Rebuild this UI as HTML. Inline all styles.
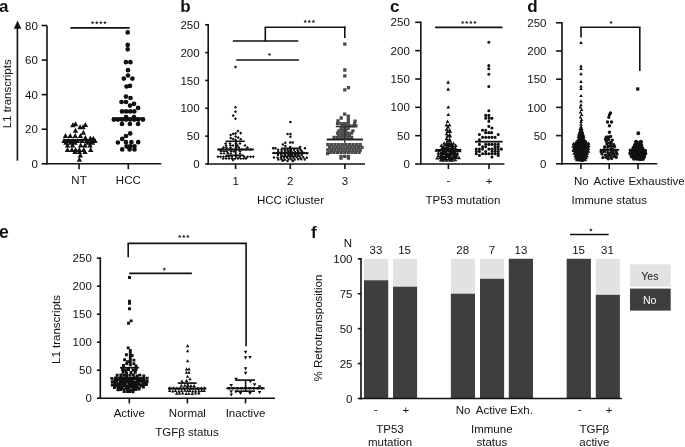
<!DOCTYPE html><html><head><meta charset="utf-8"><style>html,body{margin:0;padding:0;background:#fff;}svg{display:block;filter:grayscale(100%);}text{font-family:"Liberation Sans",sans-serif;}</style></head><body>
<svg width="685" height="447" viewBox="0 0 685 447">
<rect width="685" height="447" fill="#fff"/>
<text x="-1.00" y="12.20" text-anchor="start" font-size="17" font-weight="bold" fill="#111" >a</text>
<text x="180.20" y="12.20" text-anchor="start" font-size="17" font-weight="bold" fill="#111" >b</text>
<text x="389.90" y="12.30" text-anchor="start" font-size="17" font-weight="bold" fill="#111" >c</text>
<text x="527.30" y="12.20" text-anchor="start" font-size="17" font-weight="bold" fill="#111" >d</text>
<text x="-0.90" y="237.80" text-anchor="start" font-size="17.6" font-weight="bold" fill="#111" >e</text>
<text x="311.00" y="237.60" text-anchor="start" font-size="17" font-weight="bold" fill="#111" >f</text>
<line x1="47.00" y1="25.50" x2="47.00" y2="164.60" stroke="#111" stroke-width="1.6"/>
<line x1="46.20" y1="163.80" x2="161.20" y2="163.80" stroke="#111" stroke-width="1.6"/>
<line x1="41.60" y1="163.80" x2="47.00" y2="163.80" stroke="#111" stroke-width="1.6"/>
<text x="37.80" y="167.90" text-anchor="end" font-size="11.5" font-weight="normal" fill="#111" >0</text>
<line x1="41.60" y1="129.23" x2="47.00" y2="129.23" stroke="#111" stroke-width="1.6"/>
<text x="37.80" y="133.33" text-anchor="end" font-size="11.5" font-weight="normal" fill="#111" >20</text>
<line x1="41.60" y1="94.65" x2="47.00" y2="94.65" stroke="#111" stroke-width="1.6"/>
<text x="37.80" y="98.75" text-anchor="end" font-size="11.5" font-weight="normal" fill="#111" >40</text>
<line x1="41.60" y1="60.08" x2="47.00" y2="60.08" stroke="#111" stroke-width="1.6"/>
<text x="37.80" y="64.18" text-anchor="end" font-size="11.5" font-weight="normal" fill="#111" >60</text>
<line x1="41.60" y1="25.50" x2="47.00" y2="25.50" stroke="#111" stroke-width="1.6"/>
<text x="37.80" y="29.60" text-anchor="end" font-size="11.5" font-weight="normal" fill="#111" >80</text>
<line x1="79.00" y1="163.80" x2="79.00" y2="169.20" stroke="#111" stroke-width="1.6"/>
<text x="79.00" y="184.10" text-anchor="middle" font-size="11.5" font-weight="normal" fill="#111" >NT</text>
<line x1="128.30" y1="163.80" x2="128.30" y2="169.20" stroke="#111" stroke-width="1.6"/>
<text x="128.30" y="184.10" text-anchor="middle" font-size="11.5" font-weight="normal" fill="#111" >HCC</text>
<text transform="translate(11.10,93.80) rotate(-90)" text-anchor="middle" font-size="11.5" fill="#111">L1 transcripts</text>
<line x1="17.40" y1="27.00" x2="17.40" y2="160.70" stroke="#111" stroke-width="1.6"/>
<path d="M13.8,28.8L21.3,28.8L17.55,20.6Z" fill="#111"/>
<line x1="70.40" y1="27.90" x2="129.70" y2="27.90" stroke="#111" stroke-width="1.6"/>
<path d="M70.10,127.13L75.50,127.13L72.80,122.27ZM72.80,126.23L78.20,126.23L75.50,121.37ZM82.70,126.93L88.10,126.93L85.40,122.07ZM77.40,129.23L82.80,129.23L80.10,124.37ZM80.40,129.23L85.80,129.23L83.10,124.37ZM72.80,132.73L78.20,132.73L75.50,127.87ZM80.70,134.73L86.10,134.73L83.40,129.87ZM62.80,137.93L68.20,137.93L65.50,133.07ZM67.50,137.93L72.90,137.93L70.20,133.07ZM72.50,137.93L77.90,137.93L75.20,133.07ZM77.70,137.93L83.10,137.93L80.40,133.07ZM82.70,139.93L88.10,139.93L85.40,135.07ZM87.70,140.43L93.10,140.43L90.40,135.57ZM90.60,140.73L96.00,140.73L93.30,135.87ZM61.30,142.93L66.70,142.93L64.00,138.07ZM65.80,142.93L71.20,142.93L68.50,138.07ZM70.30,142.93L75.70,142.93L73.00,138.07ZM74.80,142.93L80.20,142.93L77.50,138.07ZM79.30,142.93L84.70,142.93L82.00,138.07ZM83.80,142.93L89.20,142.93L86.50,138.07ZM88.30,142.93L93.70,142.93L91.00,138.07ZM92.30,142.93L97.70,142.93L95.00,138.07ZM63.30,144.63L68.70,144.63L66.00,139.77ZM67.80,144.63L73.20,144.63L70.50,139.77ZM72.30,144.63L77.70,144.63L75.00,139.77ZM85.30,144.63L90.70,144.63L88.00,139.77ZM89.80,144.63L95.20,144.63L92.50,139.77ZM64.80,147.43L70.20,147.43L67.50,142.57ZM69.80,147.43L75.20,147.43L72.50,142.57ZM78.00,147.43L83.40,147.43L80.70,142.57ZM82.30,147.43L87.70,147.43L85.00,142.57ZM87.30,147.43L92.70,147.43L90.00,142.57ZM64.80,151.93L70.20,151.93L67.50,147.07ZM69.20,151.93L74.60,151.93L71.90,147.07ZM72.90,151.93L78.30,151.93L75.60,147.07ZM76.70,151.93L82.10,151.93L79.40,147.07ZM81.10,151.93L86.50,151.93L83.80,147.07ZM88.00,151.93L93.40,151.93L90.70,147.07ZM72.30,154.03L77.70,154.03L75.00,149.17ZM76.70,154.03L82.10,154.03L79.40,149.17ZM82.30,154.03L87.70,154.03L85.00,149.17ZM77.60,157.53L83.00,157.53L80.30,152.67ZM76.70,161.63L82.10,161.63L79.40,156.77Z" fill="#111"/>
<line x1="63.20" y1="140.00" x2="95.80" y2="140.00" stroke="#111" stroke-width="1.8"/>
<path d="M125.35,32.40a2.35,2.35 0 1,0 4.70,0a2.35,2.35 0 1,0 -4.70,0ZM125.35,44.90a2.35,2.35 0 1,0 4.70,0a2.35,2.35 0 1,0 -4.70,0ZM125.35,49.30a2.35,2.35 0 1,0 4.70,0a2.35,2.35 0 1,0 -4.70,0ZM123.55,62.20a2.35,2.35 0 1,0 4.70,0a2.35,2.35 0 1,0 -4.70,0ZM128.05,62.20a2.35,2.35 0 1,0 4.70,0a2.35,2.35 0 1,0 -4.70,0ZM125.65,70.20a2.35,2.35 0 1,0 4.70,0a2.35,2.35 0 1,0 -4.70,0ZM125.65,75.50a2.35,2.35 0 1,0 4.70,0a2.35,2.35 0 1,0 -4.70,0ZM121.45,78.60a2.35,2.35 0 1,0 4.70,0a2.35,2.35 0 1,0 -4.70,0ZM130.05,78.60a2.35,2.35 0 1,0 4.70,0a2.35,2.35 0 1,0 -4.70,0ZM124.15,86.50a2.35,2.35 0 1,0 4.70,0a2.35,2.35 0 1,0 -4.70,0ZM127.65,85.80a2.35,2.35 0 1,0 4.70,0a2.35,2.35 0 1,0 -4.70,0ZM123.65,96.60a2.35,2.35 0 1,0 4.70,0a2.35,2.35 0 1,0 -4.70,0ZM128.15,98.00a2.35,2.35 0 1,0 4.70,0a2.35,2.35 0 1,0 -4.70,0ZM119.15,102.00a2.35,2.35 0 1,0 4.70,0a2.35,2.35 0 1,0 -4.70,0ZM123.65,102.00a2.35,2.35 0 1,0 4.70,0a2.35,2.35 0 1,0 -4.70,0ZM131.65,103.80a2.35,2.35 0 1,0 4.70,0a2.35,2.35 0 1,0 -4.70,0ZM127.65,105.60a2.35,2.35 0 1,0 4.70,0a2.35,2.35 0 1,0 -4.70,0ZM135.75,107.90a2.35,2.35 0 1,0 4.70,0a2.35,2.35 0 1,0 -4.70,0ZM119.65,111.40a2.35,2.35 0 1,0 4.70,0a2.35,2.35 0 1,0 -4.70,0ZM123.75,111.40a2.35,2.35 0 1,0 4.70,0a2.35,2.35 0 1,0 -4.70,0ZM127.85,111.40a2.35,2.35 0 1,0 4.70,0a2.35,2.35 0 1,0 -4.70,0ZM131.95,111.40a2.35,2.35 0 1,0 4.70,0a2.35,2.35 0 1,0 -4.70,0ZM123.75,117.00a2.35,2.35 0 1,0 4.70,0a2.35,2.35 0 1,0 -4.70,0ZM131.65,117.00a2.35,2.35 0 1,0 4.70,0a2.35,2.35 0 1,0 -4.70,0ZM111.45,119.60a2.35,2.35 0 1,0 4.70,0a2.35,2.35 0 1,0 -4.70,0ZM115.55,119.60a2.35,2.35 0 1,0 4.70,0a2.35,2.35 0 1,0 -4.70,0ZM119.65,119.60a2.35,2.35 0 1,0 4.70,0a2.35,2.35 0 1,0 -4.70,0ZM123.75,119.60a2.35,2.35 0 1,0 4.70,0a2.35,2.35 0 1,0 -4.70,0ZM127.85,119.60a2.35,2.35 0 1,0 4.70,0a2.35,2.35 0 1,0 -4.70,0ZM131.95,119.60a2.35,2.35 0 1,0 4.70,0a2.35,2.35 0 1,0 -4.70,0ZM136.05,119.60a2.35,2.35 0 1,0 4.70,0a2.35,2.35 0 1,0 -4.70,0ZM140.65,119.60a2.35,2.35 0 1,0 4.70,0a2.35,2.35 0 1,0 -4.70,0ZM119.65,124.00a2.35,2.35 0 1,0 4.70,0a2.35,2.35 0 1,0 -4.70,0ZM127.55,124.00a2.35,2.35 0 1,0 4.70,0a2.35,2.35 0 1,0 -4.70,0ZM135.75,124.00a2.35,2.35 0 1,0 4.70,0a2.35,2.35 0 1,0 -4.70,0ZM127.85,133.40a2.35,2.35 0 1,0 4.70,0a2.35,2.35 0 1,0 -4.70,0ZM123.65,136.00a2.35,2.35 0 1,0 4.70,0a2.35,2.35 0 1,0 -4.70,0ZM119.85,138.90a2.35,2.35 0 1,0 4.70,0a2.35,2.35 0 1,0 -4.70,0ZM115.55,142.50a2.35,2.35 0 1,0 4.70,0a2.35,2.35 0 1,0 -4.70,0ZM123.55,142.20a2.35,2.35 0 1,0 4.70,0a2.35,2.35 0 1,0 -4.70,0ZM129.05,142.20a2.35,2.35 0 1,0 4.70,0a2.35,2.35 0 1,0 -4.70,0ZM135.85,142.20a2.35,2.35 0 1,0 4.70,0a2.35,2.35 0 1,0 -4.70,0ZM124.15,146.30a2.35,2.35 0 1,0 4.70,0a2.35,2.35 0 1,0 -4.70,0ZM127.85,146.30a2.35,2.35 0 1,0 4.70,0a2.35,2.35 0 1,0 -4.70,0ZM132.15,146.30a2.35,2.35 0 1,0 4.70,0a2.35,2.35 0 1,0 -4.70,0ZM119.85,149.40a2.35,2.35 0 1,0 4.70,0a2.35,2.35 0 1,0 -4.70,0ZM127.25,149.40a2.35,2.35 0 1,0 4.70,0a2.35,2.35 0 1,0 -4.70,0ZM132.15,149.40a2.35,2.35 0 1,0 4.70,0a2.35,2.35 0 1,0 -4.70,0Z" fill="#111"/>
<line x1="112.10" y1="118.10" x2="144.50" y2="118.10" stroke="#111" stroke-width="1.8"/>
<path d="M92.65,20.80L93.15,22.01L94.46,22.11L93.46,22.96L93.77,24.24L92.65,23.55L91.53,24.24L91.84,22.96L90.84,22.11L92.15,22.01ZM96.75,20.80L97.25,22.01L98.56,22.11L97.56,22.96L97.87,24.24L96.75,23.55L95.63,24.24L95.94,22.96L94.94,22.11L96.25,22.01ZM100.85,20.80L101.35,22.01L102.66,22.11L101.66,22.96L101.97,24.24L100.85,23.55L99.73,24.24L100.04,22.96L99.04,22.11L100.35,22.01ZM104.95,20.80L105.45,22.01L106.76,22.11L105.76,22.96L106.07,24.24L104.95,23.55L103.83,24.24L104.14,22.96L103.14,22.11L104.45,22.01Z" fill="#222"/>
<line x1="208.20" y1="23.95" x2="208.20" y2="164.80" stroke="#111" stroke-width="1.6"/>
<line x1="207.40" y1="164.00" x2="365.00" y2="164.00" stroke="#111" stroke-width="1.6"/>
<line x1="205.20" y1="164.00" x2="208.20" y2="164.00" stroke="#111" stroke-width="1.6"/>
<text x="199.60" y="168.10" text-anchor="end" font-size="11.5" font-weight="normal" fill="#111" >0</text>
<line x1="205.20" y1="136.15" x2="208.20" y2="136.15" stroke="#111" stroke-width="1.6"/>
<text x="199.60" y="140.25" text-anchor="end" font-size="11.5" font-weight="normal" fill="#111" >50</text>
<line x1="205.20" y1="108.30" x2="208.20" y2="108.30" stroke="#111" stroke-width="1.6"/>
<text x="199.60" y="112.40" text-anchor="end" font-size="11.5" font-weight="normal" fill="#111" >100</text>
<line x1="205.20" y1="80.45" x2="208.20" y2="80.45" stroke="#111" stroke-width="1.6"/>
<text x="199.60" y="84.55" text-anchor="end" font-size="11.5" font-weight="normal" fill="#111" >150</text>
<line x1="205.20" y1="52.60" x2="208.20" y2="52.60" stroke="#111" stroke-width="1.6"/>
<text x="199.60" y="56.70" text-anchor="end" font-size="11.5" font-weight="normal" fill="#111" >200</text>
<line x1="205.20" y1="24.75" x2="208.20" y2="24.75" stroke="#111" stroke-width="1.6"/>
<text x="199.60" y="28.85" text-anchor="end" font-size="11.5" font-weight="normal" fill="#111" >250</text>
<line x1="235.60" y1="164.00" x2="235.60" y2="169.00" stroke="#111" stroke-width="1.6"/>
<text x="235.60" y="185.10" text-anchor="middle" font-size="11.5" font-weight="normal" fill="#111" >1</text>
<line x1="290.30" y1="164.00" x2="290.30" y2="169.00" stroke="#111" stroke-width="1.6"/>
<text x="290.30" y="185.10" text-anchor="middle" font-size="11.5" font-weight="normal" fill="#111" >2</text>
<line x1="344.90" y1="164.00" x2="344.90" y2="169.00" stroke="#111" stroke-width="1.6"/>
<text x="344.90" y="185.10" text-anchor="middle" font-size="11.5" font-weight="normal" fill="#111" >3</text>
<text x="290.50" y="204.00" text-anchor="middle" font-size="11.5" font-weight="normal" fill="#111" >HCC iCluster</text>
<line x1="232.80" y1="41.00" x2="298.30" y2="41.00" stroke="#111" stroke-width="1.6"/>
<line x1="265.30" y1="41.80" x2="265.30" y2="27.30" stroke="#111" stroke-width="1.6"/>
<line x1="264.50" y1="27.30" x2="345.60" y2="27.30" stroke="#111" stroke-width="1.6"/>
<line x1="344.80" y1="26.50" x2="344.80" y2="38.10" stroke="#111" stroke-width="1.6"/>
<line x1="236.30" y1="60.00" x2="298.90" y2="60.00" stroke="#111" stroke-width="1.6"/>
<path d="M305.20,19.60L305.70,20.81L307.01,20.91L306.01,21.76L306.32,23.04L305.20,22.36L304.08,23.04L304.39,21.76L303.39,20.91L304.70,20.81ZM309.30,19.60L309.80,20.81L311.11,20.91L310.11,21.76L310.42,23.04L309.30,22.36L308.18,23.04L308.49,21.76L307.49,20.91L308.80,20.81ZM313.40,19.60L313.90,20.81L315.21,20.91L314.21,21.76L314.52,23.04L313.40,22.36L312.28,23.04L312.59,21.76L311.59,20.91L312.90,20.81Z" fill="#222"/>
<path d="M269.50,52.60L270.00,53.81L271.31,53.91L270.31,54.76L270.62,56.04L269.50,55.35L268.38,56.04L268.69,54.76L267.69,53.91L269.00,53.81Z" fill="#222"/>
<path d="M235.50,65.45L237.05,67.00L235.50,68.55L233.95,67.00ZM235.50,105.75L237.05,107.30L235.50,108.85L233.95,107.30ZM235.50,110.15L237.05,111.70L235.50,113.25L233.95,111.70ZM233.20,114.05L234.75,115.60L233.20,117.15L231.65,115.60ZM235.50,117.15L237.05,118.70L235.50,120.25L233.95,118.70ZM237.90,129.55L239.45,131.10L237.90,132.65L236.35,131.10ZM240.70,131.55L242.25,133.10L240.70,134.65L239.15,133.10ZM235.70,131.85L237.25,133.40L235.70,134.95L234.15,133.40ZM233.20,132.35L234.75,133.90L233.20,135.45L231.65,133.90ZM230.70,133.45L232.25,135.00L230.70,136.55L229.15,135.00ZM235.70,134.95L237.25,136.50L235.70,138.05L234.15,136.50ZM238.20,136.05L239.75,137.60L238.20,139.15L236.65,137.60ZM230.70,136.55L232.25,138.10L230.70,139.65L229.15,138.10ZM233.20,137.45L234.75,139.00L233.20,140.55L231.65,139.00ZM240.70,137.65L242.25,139.20L240.70,140.75L239.15,139.20ZM235.70,138.45L237.25,140.00L235.70,141.55L234.15,140.00ZM225.60,141.95L227.15,143.50L225.60,145.05L224.05,143.50ZM230.00,141.95L231.55,143.50L230.00,145.05L228.45,143.50ZM236.00,141.95L237.55,143.50L236.00,145.05L234.45,143.50ZM240.00,141.95L241.55,143.50L240.00,145.05L238.45,143.50ZM226.00,143.95L227.55,145.50L226.00,147.05L224.45,145.50ZM230.50,143.95L232.05,145.50L230.50,147.05L228.95,145.50ZM233.00,143.95L234.55,145.50L233.00,147.05L231.45,145.50ZM237.50,143.95L239.05,145.50L237.50,147.05L235.95,145.50ZM245.00,143.95L246.55,145.50L245.00,147.05L243.45,145.50ZM223.50,145.95L225.05,147.50L223.50,149.05L221.95,147.50ZM226.50,145.95L228.05,147.50L226.50,149.05L224.95,147.50ZM230.50,145.95L232.05,147.50L230.50,149.05L228.95,147.50ZM236.00,145.95L237.55,147.50L236.00,149.05L234.45,147.50ZM238.80,145.95L240.35,147.50L238.80,149.05L237.25,147.50ZM247.50,145.95L249.05,147.50L247.50,149.05L245.95,147.50ZM219.00,147.95L220.55,149.50L219.00,151.05L217.45,149.50ZM222.00,147.95L223.55,149.50L222.00,151.05L220.45,149.50ZM226.00,147.95L227.55,149.50L226.00,151.05L224.45,149.50ZM229.00,147.95L230.55,149.50L229.00,151.05L227.45,149.50ZM232.00,147.95L233.55,149.50L232.00,151.05L230.45,149.50ZM239.00,147.95L240.55,149.50L239.00,151.05L237.45,149.50ZM242.00,147.95L243.55,149.50L242.00,151.05L240.45,149.50ZM246.00,147.95L247.55,149.50L246.00,151.05L244.45,149.50ZM250.50,147.95L252.05,149.50L250.50,151.05L248.95,149.50ZM221.00,149.95L222.55,151.50L221.00,153.05L219.45,151.50ZM224.00,149.95L225.55,151.50L224.00,153.05L222.45,151.50ZM226.80,149.95L228.35,151.50L226.80,153.05L225.25,151.50ZM231.00,149.95L232.55,151.50L231.00,153.05L229.45,151.50ZM234.00,149.95L235.55,151.50L234.00,153.05L232.45,151.50ZM240.00,149.95L241.55,151.50L240.00,153.05L238.45,151.50ZM221.00,151.75L222.55,153.30L221.00,154.85L219.45,153.30ZM224.00,151.75L225.55,153.30L224.00,154.85L222.45,153.30ZM228.00,151.75L229.55,153.30L228.00,154.85L226.45,153.30ZM231.00,151.75L232.55,153.30L231.00,154.85L229.45,153.30ZM240.00,151.75L241.55,153.30L240.00,154.85L238.45,153.30ZM218.00,155.15L219.55,156.70L218.00,158.25L216.45,156.70ZM220.60,155.15L222.15,156.70L220.60,158.25L219.05,156.70ZM223.40,155.15L224.95,156.70L223.40,158.25L221.85,156.70ZM226.20,155.15L227.75,156.70L226.20,158.25L224.65,156.70ZM229.00,155.15L230.55,156.70L229.00,158.25L227.45,156.70ZM232.00,155.15L233.55,156.70L232.00,158.25L230.45,156.70ZM236.00,155.15L237.55,156.70L236.00,158.25L234.45,156.70ZM240.00,155.15L241.55,156.70L240.00,158.25L238.45,156.70ZM244.00,155.15L245.55,156.70L244.00,158.25L242.45,156.70ZM247.60,155.15L249.15,156.70L247.60,158.25L246.05,156.70ZM250.50,155.15L252.05,156.70L250.50,158.25L248.95,156.70ZM253.20,155.15L254.75,156.70L253.20,158.25L251.65,156.70ZM223.00,156.85L224.55,158.40L223.00,159.95L221.45,158.40ZM226.00,156.85L227.55,158.40L226.00,159.95L224.45,158.40ZM229.00,156.85L230.55,158.40L229.00,159.95L227.45,158.40ZM232.00,156.85L233.55,158.40L232.00,159.95L230.45,158.40ZM235.00,156.85L236.55,158.40L235.00,159.95L233.45,158.40ZM238.00,156.85L239.55,158.40L238.00,159.95L236.45,158.40ZM240.80,156.85L242.35,158.40L240.80,159.95L239.25,158.40ZM243.50,156.85L245.05,158.40L243.50,159.95L241.95,158.40ZM246.00,156.85L247.55,158.40L246.00,159.95L244.45,158.40ZM233.00,158.45L234.55,160.00L233.00,161.55L231.45,160.00Z" fill="#111"/>
<line x1="217.50" y1="149.50" x2="253.80" y2="149.50" stroke="#111" stroke-width="1.8"/>
<line x1="225.60" y1="141.30" x2="244.80" y2="141.30" stroke="#111" stroke-width="1.6"/>
<line x1="225.60" y1="155.30" x2="244.20" y2="155.30" stroke="#111" stroke-width="1.6"/>
<line x1="235.80" y1="141.30" x2="235.80" y2="155.30" stroke="#111" stroke-width="1.8"/>
<path d="M289.15,122.00a1.25,1.25 0 1,0 2.50,0a1.25,1.25 0 1,0 -2.50,0ZM286.35,134.00a1.25,1.25 0 1,0 2.50,0a1.25,1.25 0 1,0 -2.50,0ZM289.25,134.00a1.25,1.25 0 1,0 2.50,0a1.25,1.25 0 1,0 -2.50,0ZM289.15,136.80a1.25,1.25 0 1,0 2.50,0a1.25,1.25 0 1,0 -2.50,0ZM284.05,142.80a1.25,1.25 0 1,0 2.50,0a1.25,1.25 0 1,0 -2.50,0ZM288.95,142.50a1.25,1.25 0 1,0 2.50,0a1.25,1.25 0 1,0 -2.50,0ZM291.45,142.50a1.25,1.25 0 1,0 2.50,0a1.25,1.25 0 1,0 -2.50,0ZM281.55,144.40a1.25,1.25 0 1,0 2.50,0a1.25,1.25 0 1,0 -2.50,0ZM284.05,146.00a1.25,1.25 0 1,0 2.50,0a1.25,1.25 0 1,0 -2.50,0ZM271.85,148.30a1.25,1.25 0 1,0 2.50,0a1.25,1.25 0 1,0 -2.50,0ZM274.15,148.30a1.25,1.25 0 1,0 2.50,0a1.25,1.25 0 1,0 -2.50,0ZM288.95,147.00a1.25,1.25 0 1,0 2.50,0a1.25,1.25 0 1,0 -2.50,0ZM298.85,147.00a1.25,1.25 0 1,0 2.50,0a1.25,1.25 0 1,0 -2.50,0ZM303.65,148.30a1.25,1.25 0 1,0 2.50,0a1.25,1.25 0 1,0 -2.50,0ZM276.84,149.79a1.25,1.25 0 1,0 2.50,0a1.25,1.25 0 1,0 -2.50,0ZM280.27,149.74a1.25,1.25 0 1,0 2.50,0a1.25,1.25 0 1,0 -2.50,0ZM283.43,149.92a1.25,1.25 0 1,0 2.50,0a1.25,1.25 0 1,0 -2.50,0ZM286.37,150.00a1.25,1.25 0 1,0 2.50,0a1.25,1.25 0 1,0 -2.50,0ZM289.59,149.96a1.25,1.25 0 1,0 2.50,0a1.25,1.25 0 1,0 -2.50,0ZM292.83,149.75a1.25,1.25 0 1,0 2.50,0a1.25,1.25 0 1,0 -2.50,0ZM296.28,150.20a1.25,1.25 0 1,0 2.50,0a1.25,1.25 0 1,0 -2.50,0ZM299.32,149.83a1.25,1.25 0 1,0 2.50,0a1.25,1.25 0 1,0 -2.50,0ZM277.03,151.97a1.25,1.25 0 1,0 2.50,0a1.25,1.25 0 1,0 -2.50,0ZM280.37,151.64a1.25,1.25 0 1,0 2.50,0a1.25,1.25 0 1,0 -2.50,0ZM283.98,151.43a1.25,1.25 0 1,0 2.50,0a1.25,1.25 0 1,0 -2.50,0ZM287.28,151.57a1.25,1.25 0 1,0 2.50,0a1.25,1.25 0 1,0 -2.50,0ZM290.22,151.47a1.25,1.25 0 1,0 2.50,0a1.25,1.25 0 1,0 -2.50,0ZM293.69,151.89a1.25,1.25 0 1,0 2.50,0a1.25,1.25 0 1,0 -2.50,0ZM296.99,151.75a1.25,1.25 0 1,0 2.50,0a1.25,1.25 0 1,0 -2.50,0ZM300.63,151.62a1.25,1.25 0 1,0 2.50,0a1.25,1.25 0 1,0 -2.50,0ZM272.98,152.94a1.25,1.25 0 1,0 2.50,0a1.25,1.25 0 1,0 -2.50,0ZM275.95,153.02a1.25,1.25 0 1,0 2.50,0a1.25,1.25 0 1,0 -2.50,0ZM279.58,153.16a1.25,1.25 0 1,0 2.50,0a1.25,1.25 0 1,0 -2.50,0ZM282.62,153.25a1.25,1.25 0 1,0 2.50,0a1.25,1.25 0 1,0 -2.50,0ZM285.96,153.08a1.25,1.25 0 1,0 2.50,0a1.25,1.25 0 1,0 -2.50,0ZM289.43,153.32a1.25,1.25 0 1,0 2.50,0a1.25,1.25 0 1,0 -2.50,0ZM292.36,153.24a1.25,1.25 0 1,0 2.50,0a1.25,1.25 0 1,0 -2.50,0ZM295.79,153.43a1.25,1.25 0 1,0 2.50,0a1.25,1.25 0 1,0 -2.50,0ZM299.17,153.07a1.25,1.25 0 1,0 2.50,0a1.25,1.25 0 1,0 -2.50,0ZM302.58,152.97a1.25,1.25 0 1,0 2.50,0a1.25,1.25 0 1,0 -2.50,0ZM305.50,153.35a1.25,1.25 0 1,0 2.50,0a1.25,1.25 0 1,0 -2.50,0ZM276.74,154.99a1.25,1.25 0 1,0 2.50,0a1.25,1.25 0 1,0 -2.50,0ZM280.04,155.10a1.25,1.25 0 1,0 2.50,0a1.25,1.25 0 1,0 -2.50,0ZM283.85,155.04a1.25,1.25 0 1,0 2.50,0a1.25,1.25 0 1,0 -2.50,0ZM287.29,154.89a1.25,1.25 0 1,0 2.50,0a1.25,1.25 0 1,0 -2.50,0ZM290.55,155.06a1.25,1.25 0 1,0 2.50,0a1.25,1.25 0 1,0 -2.50,0ZM293.86,154.97a1.25,1.25 0 1,0 2.50,0a1.25,1.25 0 1,0 -2.50,0ZM297.38,155.27a1.25,1.25 0 1,0 2.50,0a1.25,1.25 0 1,0 -2.50,0ZM300.53,155.10a1.25,1.25 0 1,0 2.50,0a1.25,1.25 0 1,0 -2.50,0ZM272.69,157.52a1.25,1.25 0 1,0 2.50,0a1.25,1.25 0 1,0 -2.50,0ZM276.30,157.70a1.25,1.25 0 1,0 2.50,0a1.25,1.25 0 1,0 -2.50,0ZM279.66,157.27a1.25,1.25 0 1,0 2.50,0a1.25,1.25 0 1,0 -2.50,0ZM282.66,157.50a1.25,1.25 0 1,0 2.50,0a1.25,1.25 0 1,0 -2.50,0ZM285.70,157.38a1.25,1.25 0 1,0 2.50,0a1.25,1.25 0 1,0 -2.50,0ZM289.05,157.17a1.25,1.25 0 1,0 2.50,0a1.25,1.25 0 1,0 -2.50,0ZM292.25,157.56a1.25,1.25 0 1,0 2.50,0a1.25,1.25 0 1,0 -2.50,0ZM295.55,157.25a1.25,1.25 0 1,0 2.50,0a1.25,1.25 0 1,0 -2.50,0ZM298.96,157.62a1.25,1.25 0 1,0 2.50,0a1.25,1.25 0 1,0 -2.50,0ZM302.04,157.37a1.25,1.25 0 1,0 2.50,0a1.25,1.25 0 1,0 -2.50,0ZM305.58,157.63a1.25,1.25 0 1,0 2.50,0a1.25,1.25 0 1,0 -2.50,0ZM277.14,159.62a1.25,1.25 0 1,0 2.50,0a1.25,1.25 0 1,0 -2.50,0ZM280.14,159.35a1.25,1.25 0 1,0 2.50,0a1.25,1.25 0 1,0 -2.50,0ZM283.52,159.63a1.25,1.25 0 1,0 2.50,0a1.25,1.25 0 1,0 -2.50,0ZM287.20,159.19a1.25,1.25 0 1,0 2.50,0a1.25,1.25 0 1,0 -2.50,0ZM290.06,159.24a1.25,1.25 0 1,0 2.50,0a1.25,1.25 0 1,0 -2.50,0ZM293.42,159.39a1.25,1.25 0 1,0 2.50,0a1.25,1.25 0 1,0 -2.50,0ZM296.95,159.26a1.25,1.25 0 1,0 2.50,0a1.25,1.25 0 1,0 -2.50,0ZM299.93,159.35a1.25,1.25 0 1,0 2.50,0a1.25,1.25 0 1,0 -2.50,0ZM303.47,159.44a1.25,1.25 0 1,0 2.50,0a1.25,1.25 0 1,0 -2.50,0ZM281.55,160.80a1.25,1.25 0 1,0 2.50,0a1.25,1.25 0 1,0 -2.50,0ZM286.25,161.00a1.25,1.25 0 1,0 2.50,0a1.25,1.25 0 1,0 -2.50,0ZM291.45,161.00a1.25,1.25 0 1,0 2.50,0a1.25,1.25 0 1,0 -2.50,0Z" fill="#111"/>
<line x1="272.20" y1="153.20" x2="308.50" y2="153.20" stroke="#111" stroke-width="1.8"/>
<line x1="281.20" y1="148.30" x2="300.40" y2="148.30" stroke="#111" stroke-width="1.6"/>
<line x1="281.20" y1="156.20" x2="300.40" y2="156.20" stroke="#111" stroke-width="1.6"/>
<line x1="290.30" y1="148.30" x2="290.30" y2="156.20" stroke="#111" stroke-width="1.8"/>
<path d="M343.15,42.45h3.30v3.30h-3.30ZM343.15,68.35h3.30v3.30h-3.30ZM343.15,74.15h3.30v3.30h-3.30ZM346.85,86.05h3.30v3.30h-3.30ZM343.15,88.25h3.30v3.30h-3.30ZM343.05,112.45h3.30v3.30h-3.30ZM346.65,114.55h3.30v3.30h-3.30ZM339.55,116.35h3.30v3.30h-3.30ZM346.65,117.55h3.30v3.30h-3.30ZM336.35,119.35h3.30v3.30h-3.30ZM346.65,120.15h3.30v3.30h-3.30ZM353.45,119.55h3.30v3.30h-3.30ZM335.95,121.95h3.30v3.30h-3.30ZM339.45,121.95h3.30v3.30h-3.30ZM342.95,121.95h3.30v3.30h-3.30ZM346.45,121.95h3.30v3.30h-3.30ZM352.95,121.95h3.30v3.30h-3.30ZM340.75,124.25h3.30v3.30h-3.30ZM344.25,124.25h3.30v3.30h-3.30ZM347.75,124.25h3.30v3.30h-3.30ZM351.25,124.25h3.30v3.30h-3.30ZM354.25,124.25h3.30v3.30h-3.30ZM339.45,126.75h3.30v3.30h-3.30ZM342.95,126.75h3.30v3.30h-3.30ZM346.45,126.75h3.30v3.30h-3.30ZM337.25,129.25h3.30v3.30h-3.30ZM340.75,129.25h3.30v3.30h-3.30ZM344.25,129.25h3.30v3.30h-3.30ZM351.25,129.25h3.30v3.30h-3.30ZM335.95,131.45h3.30v3.30h-3.30ZM339.45,131.45h3.30v3.30h-3.30ZM342.95,131.45h3.30v3.30h-3.30ZM346.45,131.45h3.30v3.30h-3.30ZM349.95,131.45h3.30v3.30h-3.30ZM337.25,133.65h3.30v3.30h-3.30ZM340.75,133.65h3.30v3.30h-3.30ZM344.25,133.65h3.30v3.30h-3.30ZM347.75,133.65h3.30v3.30h-3.30ZM332.45,135.75h3.30v3.30h-3.30ZM335.95,135.75h3.30v3.30h-3.30ZM339.45,135.75h3.30v3.30h-3.30ZM342.95,135.75h3.30v3.30h-3.30ZM346.45,135.75h3.30v3.30h-3.30ZM349.95,135.75h3.30v3.30h-3.30ZM326.15,142.95h3.30v3.30h-3.30ZM329.75,142.95h3.30v3.30h-3.30ZM333.35,142.95h3.30v3.30h-3.30ZM336.95,142.95h3.30v3.30h-3.30ZM340.55,142.95h3.30v3.30h-3.30ZM344.15,142.95h3.30v3.30h-3.30ZM347.75,142.95h3.30v3.30h-3.30ZM351.35,142.95h3.30v3.30h-3.30ZM354.95,142.95h3.30v3.30h-3.30ZM358.55,142.95h3.30v3.30h-3.30ZM327.95,145.65h3.30v3.30h-3.30ZM331.55,145.65h3.30v3.30h-3.30ZM335.15,145.65h3.30v3.30h-3.30ZM338.75,145.65h3.30v3.30h-3.30ZM342.35,145.65h3.30v3.30h-3.30ZM345.95,145.65h3.30v3.30h-3.30ZM349.55,145.65h3.30v3.30h-3.30ZM353.15,145.65h3.30v3.30h-3.30ZM356.75,145.65h3.30v3.30h-3.30ZM360.35,145.65h3.30v3.30h-3.30ZM326.15,148.35h3.30v3.30h-3.30ZM329.75,148.35h3.30v3.30h-3.30ZM333.35,148.35h3.30v3.30h-3.30ZM336.95,148.35h3.30v3.30h-3.30ZM340.55,148.35h3.30v3.30h-3.30ZM344.15,148.35h3.30v3.30h-3.30ZM347.75,148.35h3.30v3.30h-3.30ZM351.35,148.35h3.30v3.30h-3.30ZM354.95,148.35h3.30v3.30h-3.30ZM358.55,148.35h3.30v3.30h-3.30ZM328.65,150.75h3.30v3.30h-3.30ZM332.25,150.75h3.30v3.30h-3.30ZM335.85,150.75h3.30v3.30h-3.30ZM339.45,150.75h3.30v3.30h-3.30ZM343.05,150.75h3.30v3.30h-3.30ZM346.65,150.75h3.30v3.30h-3.30ZM350.25,150.75h3.30v3.30h-3.30ZM353.85,150.75h3.30v3.30h-3.30ZM357.45,150.75h3.30v3.30h-3.30ZM325.95,151.95h3.30v3.30h-3.30ZM339.35,154.65h3.30v3.30h-3.30ZM343.05,154.65h3.30v3.30h-3.30ZM346.75,154.65h3.30v3.30h-3.30ZM339.35,156.55h3.30v3.30h-3.30ZM346.75,156.55h3.30v3.30h-3.30Z" fill="#4a4a4a"/>
<line x1="326.70" y1="139.50" x2="363.00" y2="139.50" stroke="#222" stroke-width="1.8"/>
<line x1="335.80" y1="126.50" x2="355.50" y2="126.50" stroke="#333" stroke-width="1.5"/>
<line x1="344.80" y1="126.50" x2="344.80" y2="143.00" stroke="#333" stroke-width="1.3"/>
<line x1="420.80" y1="21.50" x2="420.80" y2="164.80" stroke="#111" stroke-width="1.6"/>
<line x1="420.00" y1="164.00" x2="504.40" y2="164.00" stroke="#111" stroke-width="1.6"/>
<line x1="415.20" y1="164.00" x2="420.80" y2="164.00" stroke="#111" stroke-width="1.6"/>
<text x="409.80" y="168.10" text-anchor="end" font-size="11.5" font-weight="normal" fill="#111" >0</text>
<line x1="415.20" y1="135.66" x2="420.80" y2="135.66" stroke="#111" stroke-width="1.6"/>
<text x="409.80" y="139.76" text-anchor="end" font-size="11.5" font-weight="normal" fill="#111" >50</text>
<line x1="415.20" y1="107.32" x2="420.80" y2="107.32" stroke="#111" stroke-width="1.6"/>
<text x="409.80" y="111.42" text-anchor="end" font-size="11.5" font-weight="normal" fill="#111" >100</text>
<line x1="415.20" y1="78.98" x2="420.80" y2="78.98" stroke="#111" stroke-width="1.6"/>
<text x="409.80" y="83.08" text-anchor="end" font-size="11.5" font-weight="normal" fill="#111" >150</text>
<line x1="415.20" y1="50.64" x2="420.80" y2="50.64" stroke="#111" stroke-width="1.6"/>
<text x="409.80" y="54.74" text-anchor="end" font-size="11.5" font-weight="normal" fill="#111" >200</text>
<line x1="415.20" y1="22.30" x2="420.80" y2="22.30" stroke="#111" stroke-width="1.6"/>
<text x="409.80" y="26.40" text-anchor="end" font-size="11.5" font-weight="normal" fill="#111" >250</text>
<line x1="448.40" y1="164.00" x2="448.40" y2="169.00" stroke="#111" stroke-width="1.6"/>
<text x="448.40" y="183.80" text-anchor="middle" font-size="11.5" font-weight="normal" fill="#111" >-</text>
<line x1="489.00" y1="164.00" x2="489.00" y2="169.00" stroke="#111" stroke-width="1.6"/>
<text x="489.00" y="184.90" text-anchor="middle" font-size="11.5" font-weight="normal" fill="#111" >+</text>
<text x="463.00" y="204.00" text-anchor="middle" font-size="11.5" font-weight="normal" fill="#111" >TP53 mutation</text>
<line x1="435.10" y1="27.40" x2="502.50" y2="27.40" stroke="#111" stroke-width="1.6"/>
<path d="M462.65,20.60L463.15,21.81L464.46,21.91L463.46,22.76L463.77,24.04L462.65,23.36L461.53,24.04L461.84,22.76L460.84,21.91L462.15,21.81ZM466.75,20.60L467.25,21.81L468.56,21.91L467.56,22.76L467.87,24.04L466.75,23.36L465.63,24.04L465.94,22.76L464.94,21.91L466.25,21.81ZM470.85,20.60L471.35,21.81L472.66,21.91L471.66,22.76L471.97,24.04L470.85,23.36L469.73,24.04L470.04,22.76L469.04,21.91L470.35,21.81ZM474.95,20.60L475.45,21.81L476.76,21.91L475.76,22.76L476.07,24.04L474.95,23.36L473.83,24.04L474.14,22.76L473.14,21.91L474.45,21.81Z" fill="#222"/>
<path d="M447.20,143.00L443.20,145.60L443.20,148.00L438.20,150.40L440.20,152.80L440.20,155.20L438.70,157.60L443.20,160.50L452.80,160.50L457.80,157.60L455.80,155.20L455.80,152.80L458.30,150.40L453.80,148.00L453.80,145.60L449.80,143.00Z" fill="#111"/>
<path d="M446.20,83.71L450.00,83.71L448.10,80.29ZM446.20,90.71L450.00,90.71L448.10,87.29ZM446.40,108.61L450.20,108.61L448.30,105.19ZM446.40,116.11L450.20,116.11L448.30,112.69ZM445.60,122.91L449.40,122.91L447.50,119.49ZM444.60,126.41L448.40,126.41L446.50,122.99ZM447.60,126.41L451.40,126.41L449.50,122.99ZM446.10,128.41L449.90,128.41L448.00,124.99ZM444.70,130.71L448.50,130.71L446.60,127.29ZM447.70,131.51L451.50,131.51L449.60,128.09ZM445.50,133.01L449.30,133.01L447.40,129.59ZM448.30,133.01L452.10,133.01L450.20,129.59ZM444.70,135.31L448.50,135.31L446.60,131.89ZM447.70,136.11L451.50,136.11L449.60,132.69ZM445.50,137.61L449.30,137.61L447.40,134.19ZM448.30,137.61L452.10,137.61L450.20,134.19ZM444.70,139.91L448.50,139.91L446.60,136.49ZM447.70,140.71L451.50,140.71L449.60,137.29ZM445.50,142.21L449.30,142.21L447.40,138.79ZM448.30,142.21L452.10,142.21L450.20,138.79ZM442.16,144.63L445.96,144.63L444.06,141.21ZM444.82,144.57L448.62,144.57L446.72,141.15ZM447.13,144.80L450.93,144.80L449.03,141.38ZM449.15,144.92L452.95,144.92L451.05,141.50ZM451.53,144.86L455.33,144.86L453.43,141.44ZM439.46,146.98L443.26,146.98L441.36,143.56ZM442.46,147.57L446.26,147.57L444.36,144.15ZM444.94,147.09L448.74,147.09L446.84,143.67ZM448.06,147.67L451.86,147.67L449.96,144.25ZM450.74,147.23L454.54,147.23L452.64,143.81ZM453.78,146.95L457.58,146.95L455.68,143.53ZM440.09,149.54L443.89,149.54L441.99,146.12ZM442.24,149.40L446.04,149.40L444.14,145.98ZM445.09,149.96L448.89,149.96L446.99,146.54ZM447.70,149.78L451.50,149.78L449.60,146.36ZM450.79,149.61L454.59,149.61L452.69,146.19ZM453.44,149.36L457.24,149.36L455.34,145.94ZM434.45,151.87L438.25,151.87L436.35,148.45ZM437.51,152.05L441.31,152.05L439.41,148.63ZM439.78,152.18L443.58,152.18L441.68,148.76ZM442.46,151.95L446.26,151.95L444.36,148.53ZM445.30,152.27L449.10,152.27L447.20,148.85ZM447.43,152.17L451.23,152.17L449.33,148.75ZM450.22,152.41L454.02,152.41L452.12,148.99ZM452.95,151.94L456.75,151.94L454.85,148.52ZM455.72,151.80L459.52,151.80L457.62,148.38ZM457.83,152.32L461.63,152.32L459.73,148.90ZM436.52,154.50L440.32,154.50L438.42,151.08ZM439.09,154.64L442.89,154.64L440.99,151.22ZM442.33,154.57L446.13,154.57L444.23,151.15ZM445.07,154.36L448.87,154.36L446.97,150.94ZM447.58,154.59L451.38,154.59L449.48,151.17ZM450.15,154.47L453.95,154.47L452.05,151.05ZM453.01,154.87L456.81,154.87L454.91,151.45ZM455.38,154.64L459.18,154.64L457.28,151.22ZM436.45,157.07L440.25,157.07L438.35,153.65ZM439.57,157.30L443.37,157.30L441.47,153.88ZM442.37,156.74L446.17,156.74L444.27,153.32ZM444.68,157.04L448.48,157.04L446.58,153.62ZM447.05,156.88L450.85,156.88L448.95,153.46ZM449.82,156.60L453.62,156.60L451.72,153.18ZM452.39,157.12L456.19,157.12L454.29,153.70ZM455.10,156.71L458.90,156.71L457.00,153.29ZM435.21,159.61L439.01,159.61L437.11,156.19ZM437.73,159.27L441.53,159.27L439.63,155.85ZM440.86,159.62L444.66,159.62L442.76,156.20ZM443.84,159.60L447.64,159.60L445.74,156.18ZM446.17,159.24L449.97,159.24L448.07,155.82ZM449.00,159.62L452.80,159.62L450.90,156.20ZM452.24,159.03L456.04,159.03L454.14,155.61ZM454.38,159.10L458.18,159.10L456.28,155.68ZM457.19,159.30L460.99,159.30L459.09,155.88ZM438.87,161.52L442.67,161.52L440.77,158.10ZM441.32,161.65L445.12,161.65L443.22,158.23ZM444.54,161.76L448.34,161.76L446.44,158.34ZM447.92,161.86L451.72,161.86L449.82,158.44ZM450.49,161.80L454.29,161.80L452.39,158.38ZM453.54,161.35L457.34,161.35L455.44,157.93Z" fill="#111"/>
<path d="M447.45,152.50a0.55,0.55 0 1,0 1.10,0a0.55,0.55 0 1,0 -1.10,0ZM443.45,155.50a0.55,0.55 0 1,0 1.10,0a0.55,0.55 0 1,0 -1.10,0ZM451.45,156.00a0.55,0.55 0 1,0 1.10,0a0.55,0.55 0 1,0 -1.10,0ZM446.95,158.50a0.55,0.55 0 1,0 1.10,0a0.55,0.55 0 1,0 -1.10,0ZM440.45,151.00a0.55,0.55 0 1,0 1.10,0a0.55,0.55 0 1,0 -1.10,0ZM454.45,150.50a0.55,0.55 0 1,0 1.10,0a0.55,0.55 0 1,0 -1.10,0ZM449.45,147.50a0.55,0.55 0 1,0 1.10,0a0.55,0.55 0 1,0 -1.10,0ZM444.45,146.50a0.55,0.55 0 1,0 1.10,0a0.55,0.55 0 1,0 -1.10,0Z" fill="#fff"/>
<line x1="435.60" y1="149.90" x2="461.40" y2="149.90" stroke="#111" stroke-width="1.8"/>
<path d="M487.25,42.20a1.55,1.55 0 1,0 3.10,0a1.55,1.55 0 1,0 -3.10,0ZM487.25,65.60a1.55,1.55 0 1,0 3.10,0a1.55,1.55 0 1,0 -3.10,0ZM487.25,68.70a1.55,1.55 0 1,0 3.10,0a1.55,1.55 0 1,0 -3.10,0ZM487.25,74.20a1.55,1.55 0 1,0 3.10,0a1.55,1.55 0 1,0 -3.10,0ZM487.25,86.50a1.55,1.55 0 1,0 3.10,0a1.55,1.55 0 1,0 -3.10,0ZM487.27,110.69a1.55,1.55 0 1,0 3.10,0a1.55,1.55 0 1,0 -3.10,0ZM484.14,115.39a1.55,1.55 0 1,0 3.10,0a1.55,1.55 0 1,0 -3.10,0ZM487.27,115.39a1.55,1.55 0 1,0 3.10,0a1.55,1.55 0 1,0 -3.10,0ZM484.14,118.22a1.55,1.55 0 1,0 3.10,0a1.55,1.55 0 1,0 -3.10,0ZM487.59,118.22a1.55,1.55 0 1,0 3.10,0a1.55,1.55 0 1,0 -3.10,0ZM490.41,118.22a1.55,1.55 0 1,0 3.10,0a1.55,1.55 0 1,0 -3.10,0ZM487.27,121.35a1.55,1.55 0 1,0 3.10,0a1.55,1.55 0 1,0 -3.10,0ZM487.27,126.37a1.55,1.55 0 1,0 3.10,0a1.55,1.55 0 1,0 -3.10,0ZM490.41,127.94a1.55,1.55 0 1,0 3.10,0a1.55,1.55 0 1,0 -3.10,0ZM481.00,130.29a1.55,1.55 0 1,0 3.10,0a1.55,1.55 0 1,0 -3.10,0ZM484.14,130.29a1.55,1.55 0 1,0 3.10,0a1.55,1.55 0 1,0 -3.10,0ZM484.14,132.65a1.55,1.55 0 1,0 3.10,0a1.55,1.55 0 1,0 -3.10,0ZM487.27,132.65a1.55,1.55 0 1,0 3.10,0a1.55,1.55 0 1,0 -3.10,0ZM490.10,132.65a1.55,1.55 0 1,0 3.10,0a1.55,1.55 0 1,0 -3.10,0ZM477.86,134.53a1.55,1.55 0 1,0 3.10,0a1.55,1.55 0 1,0 -3.10,0ZM496.69,134.53a1.55,1.55 0 1,0 3.10,0a1.55,1.55 0 1,0 -3.10,0ZM481.00,137.35a1.55,1.55 0 1,0 3.10,0a1.55,1.55 0 1,0 -3.10,0ZM484.14,137.35a1.55,1.55 0 1,0 3.10,0a1.55,1.55 0 1,0 -3.10,0ZM487.27,137.35a1.55,1.55 0 1,0 3.10,0a1.55,1.55 0 1,0 -3.10,0ZM490.41,137.35a1.55,1.55 0 1,0 3.10,0a1.55,1.55 0 1,0 -3.10,0ZM493.55,137.35a1.55,1.55 0 1,0 3.10,0a1.55,1.55 0 1,0 -3.10,0ZM477.86,139.71a1.55,1.55 0 1,0 3.10,0a1.55,1.55 0 1,0 -3.10,0ZM477.86,144.41a1.55,1.55 0 1,0 3.10,0a1.55,1.55 0 1,0 -3.10,0ZM484.14,144.41a1.55,1.55 0 1,0 3.10,0a1.55,1.55 0 1,0 -3.10,0ZM487.27,144.41a1.55,1.55 0 1,0 3.10,0a1.55,1.55 0 1,0 -3.10,0ZM490.41,144.41a1.55,1.55 0 1,0 3.10,0a1.55,1.55 0 1,0 -3.10,0ZM493.55,144.41a1.55,1.55 0 1,0 3.10,0a1.55,1.55 0 1,0 -3.10,0ZM496.69,144.41a1.55,1.55 0 1,0 3.10,0a1.55,1.55 0 1,0 -3.10,0ZM481.00,146.76a1.55,1.55 0 1,0 3.10,0a1.55,1.55 0 1,0 -3.10,0ZM484.14,146.76a1.55,1.55 0 1,0 3.10,0a1.55,1.55 0 1,0 -3.10,0ZM493.55,146.76a1.55,1.55 0 1,0 3.10,0a1.55,1.55 0 1,0 -3.10,0ZM496.69,146.76a1.55,1.55 0 1,0 3.10,0a1.55,1.55 0 1,0 -3.10,0ZM474.72,149.12a1.55,1.55 0 1,0 3.10,0a1.55,1.55 0 1,0 -3.10,0ZM477.86,149.12a1.55,1.55 0 1,0 3.10,0a1.55,1.55 0 1,0 -3.10,0ZM481.00,149.12a1.55,1.55 0 1,0 3.10,0a1.55,1.55 0 1,0 -3.10,0ZM487.27,149.12a1.55,1.55 0 1,0 3.10,0a1.55,1.55 0 1,0 -3.10,0ZM490.41,149.12a1.55,1.55 0 1,0 3.10,0a1.55,1.55 0 1,0 -3.10,0ZM493.55,149.12a1.55,1.55 0 1,0 3.10,0a1.55,1.55 0 1,0 -3.10,0ZM496.69,149.12a1.55,1.55 0 1,0 3.10,0a1.55,1.55 0 1,0 -3.10,0ZM499.82,149.12a1.55,1.55 0 1,0 3.10,0a1.55,1.55 0 1,0 -3.10,0ZM474.72,151.47a1.55,1.55 0 1,0 3.10,0a1.55,1.55 0 1,0 -3.10,0ZM477.86,151.47a1.55,1.55 0 1,0 3.10,0a1.55,1.55 0 1,0 -3.10,0ZM484.14,151.47a1.55,1.55 0 1,0 3.10,0a1.55,1.55 0 1,0 -3.10,0ZM490.41,151.47a1.55,1.55 0 1,0 3.10,0a1.55,1.55 0 1,0 -3.10,0ZM493.55,151.47a1.55,1.55 0 1,0 3.10,0a1.55,1.55 0 1,0 -3.10,0ZM496.69,151.47a1.55,1.55 0 1,0 3.10,0a1.55,1.55 0 1,0 -3.10,0ZM474.72,153.82a1.55,1.55 0 1,0 3.10,0a1.55,1.55 0 1,0 -3.10,0ZM481.00,153.82a1.55,1.55 0 1,0 3.10,0a1.55,1.55 0 1,0 -3.10,0ZM484.14,153.82a1.55,1.55 0 1,0 3.10,0a1.55,1.55 0 1,0 -3.10,0ZM487.27,153.82a1.55,1.55 0 1,0 3.10,0a1.55,1.55 0 1,0 -3.10,0ZM490.41,153.82a1.55,1.55 0 1,0 3.10,0a1.55,1.55 0 1,0 -3.10,0ZM493.55,153.82a1.55,1.55 0 1,0 3.10,0a1.55,1.55 0 1,0 -3.10,0ZM496.69,153.82a1.55,1.55 0 1,0 3.10,0a1.55,1.55 0 1,0 -3.10,0ZM477.86,155.39a1.55,1.55 0 1,0 3.10,0a1.55,1.55 0 1,0 -3.10,0ZM496.69,155.39a1.55,1.55 0 1,0 3.10,0a1.55,1.55 0 1,0 -3.10,0ZM490.41,156.96a1.55,1.55 0 1,0 3.10,0a1.55,1.55 0 1,0 -3.10,0Z" fill="#111"/>
<line x1="475.00" y1="141.70" x2="502.60" y2="141.70" stroke="#111" stroke-width="1.8"/>
<line x1="562.00" y1="22.00" x2="562.00" y2="164.60" stroke="#111" stroke-width="1.6"/>
<line x1="561.20" y1="163.80" x2="657.20" y2="163.80" stroke="#111" stroke-width="1.6"/>
<line x1="556.10" y1="163.80" x2="562.00" y2="163.80" stroke="#111" stroke-width="1.6"/>
<text x="546.50" y="167.90" text-anchor="end" font-size="11.5" font-weight="normal" fill="#111" >0</text>
<line x1="556.10" y1="135.60" x2="562.00" y2="135.60" stroke="#111" stroke-width="1.6"/>
<text x="546.50" y="139.70" text-anchor="end" font-size="11.5" font-weight="normal" fill="#111" >50</text>
<line x1="556.10" y1="107.40" x2="562.00" y2="107.40" stroke="#111" stroke-width="1.6"/>
<text x="546.50" y="111.50" text-anchor="end" font-size="11.5" font-weight="normal" fill="#111" >100</text>
<line x1="556.10" y1="79.20" x2="562.00" y2="79.20" stroke="#111" stroke-width="1.6"/>
<text x="546.50" y="83.30" text-anchor="end" font-size="11.5" font-weight="normal" fill="#111" >150</text>
<line x1="556.10" y1="51.00" x2="562.00" y2="51.00" stroke="#111" stroke-width="1.6"/>
<text x="546.50" y="55.10" text-anchor="end" font-size="11.5" font-weight="normal" fill="#111" >200</text>
<line x1="556.10" y1="22.80" x2="562.00" y2="22.80" stroke="#111" stroke-width="1.6"/>
<text x="546.50" y="26.90" text-anchor="end" font-size="11.5" font-weight="normal" fill="#111" >250</text>
<line x1="580.90" y1="163.80" x2="580.90" y2="169.00" stroke="#111" stroke-width="1.6"/>
<text x="581.30" y="184.60" text-anchor="middle" font-size="11.5" font-weight="normal" fill="#111" >No</text>
<line x1="609.20" y1="163.80" x2="609.20" y2="169.00" stroke="#111" stroke-width="1.6"/>
<text x="609.20" y="184.60" text-anchor="middle" font-size="11.5" font-weight="normal" fill="#111" >Active</text>
<line x1="638.00" y1="163.80" x2="638.00" y2="169.00" stroke="#111" stroke-width="1.6"/>
<text x="656.60" y="184.60" text-anchor="middle" font-size="11.5" font-weight="normal" fill="#111" >Exhaustive</text>
<text x="609.20" y="203.50" text-anchor="middle" font-size="11.5" font-weight="normal" fill="#111" >Immune status</text>
<line x1="581.00" y1="27.20" x2="581.00" y2="37.60" stroke="#111" stroke-width="1.6"/>
<line x1="580.20" y1="27.20" x2="640.60" y2="27.20" stroke="#111" stroke-width="1.6"/>
<line x1="639.80" y1="27.20" x2="639.80" y2="70.90" stroke="#111" stroke-width="1.6"/>
<path d="M611.10,20.50L611.60,21.71L612.91,21.81L611.91,22.66L612.22,23.94L611.10,23.25L609.98,23.94L610.29,22.66L609.29,21.81L610.60,21.71Z" fill="#222"/>
<path d="M581.60,120.00L581.40,121.50L580.90,124.00L580.60,126.50L580.10,129.00L579.60,131.50L579.10,134.00L578.60,136.50L578.10,139.00L576.60,141.20L573.60,143.40L573.10,146.00L573.10,148.40L573.60,150.80L574.10,153.20L575.10,155.60L575.60,158.00L577.10,160.00L578.10,161.00L584.40,161.00L585.40,160.00L586.40,158.00L586.90,155.60L587.90,153.20L588.40,150.80L588.90,148.40L588.90,146.00L588.40,143.40L585.90,141.20L584.40,139.00L583.90,136.50L583.40,134.00L582.90,131.50L581.90,129.00L581.40,126.50L581.10,124.00L580.60,121.50L580.40,120.00Z" fill="#111"/>
<path d="M579.20,44.02L582.80,44.02L581.00,40.78ZM579.20,67.42L582.80,67.42L581.00,64.18ZM579.20,70.12L582.80,70.12L581.00,66.88ZM579.20,75.22L582.80,75.22L581.00,71.98ZM579.20,82.92L582.80,82.92L581.00,79.68ZM579.20,87.62L582.80,87.62L581.00,84.38ZM579.20,90.12L582.80,90.12L581.00,86.88ZM579.20,97.12L582.80,97.12L581.00,93.88ZM579.20,102.42L582.80,102.42L581.00,99.18ZM579.20,106.22L582.80,106.22L581.00,102.98ZM578.60,108.62L582.20,108.62L580.40,105.38ZM579.80,111.12L583.40,111.12L581.60,107.88ZM578.60,113.62L582.20,113.62L580.40,110.38ZM579.80,116.12L583.40,116.12L581.60,112.88ZM578.60,118.62L582.20,118.62L580.40,115.38ZM579.80,121.12L583.40,121.12L581.60,117.88ZM579.20,123.12L582.80,123.12L581.00,119.88ZM579.20,125.62L582.80,125.62L581.00,122.38ZM579.20,128.12L582.80,128.12L581.00,124.88ZM578.26,130.34L581.86,130.34L580.06,127.10ZM580.12,130.28L583.72,130.28L581.92,127.04ZM577.93,133.01L581.53,133.01L579.73,129.77ZM580.65,133.13L584.25,133.13L582.45,129.89ZM577.03,135.57L580.63,135.57L578.83,132.33ZM579.11,135.29L582.71,135.29L580.91,132.05ZM581.44,135.88L585.04,135.88L583.24,132.64ZM576.60,137.90L580.20,137.90L578.40,134.66ZM579.55,138.48L583.15,138.48L581.35,135.24ZM582.06,138.04L585.66,138.04L583.86,134.80ZM576.78,140.26L580.38,140.26L578.58,137.02ZM578.72,140.45L582.32,140.45L580.52,137.21ZM580.18,140.31L583.78,140.31L581.98,137.07ZM582.35,140.87L585.95,140.87L584.15,137.63ZM574.64,142.89L578.24,142.89L576.44,139.65ZM577.29,142.72L580.89,142.72L579.09,139.48ZM579.49,142.47L583.09,142.47L581.29,139.23ZM581.37,142.58L584.97,142.58L583.17,139.34ZM584.14,142.76L587.74,142.76L585.94,139.52ZM571.75,145.09L575.35,145.09L573.55,141.85ZM574.30,144.86L577.90,144.86L576.10,141.62ZM577.00,145.18L580.60,145.18L578.80,141.94ZM579.00,145.08L582.60,145.08L580.80,141.84ZM581.65,145.32L585.25,145.32L583.45,142.08ZM584.25,144.85L587.85,144.85L586.05,141.61ZM586.88,144.71L590.48,144.71L588.68,141.47ZM571.33,147.83L574.93,147.83L573.13,144.59ZM573.72,147.61L577.32,147.61L575.52,144.37ZM576.23,147.75L579.83,147.75L578.03,144.51ZM579.41,147.68L583.01,147.68L581.21,144.44ZM582.10,147.47L585.70,147.47L583.90,144.23ZM584.56,147.70L588.16,147.70L586.36,144.46ZM587.06,147.58L590.66,147.58L588.86,144.34ZM571.67,150.38L575.27,150.38L573.47,147.14ZM573.98,150.15L577.58,150.15L575.78,146.91ZM576.25,150.18L579.85,150.18L578.05,146.94ZM579.32,150.41L582.92,150.41L581.12,147.17ZM582.06,149.85L585.66,149.85L583.86,146.61ZM584.31,150.15L587.91,150.15L586.11,146.91ZM586.62,149.99L590.22,149.99L588.42,146.75ZM571.63,152.11L575.23,152.11L573.43,148.87ZM573.98,152.63L577.58,152.63L575.78,149.39ZM576.47,152.22L580.07,152.22L578.27,148.98ZM579.11,152.72L582.71,152.72L580.91,149.48ZM581.30,152.38L584.90,152.38L583.10,149.14ZM584.11,152.73L587.71,152.73L585.91,149.49ZM586.76,152.71L590.36,152.71L588.56,149.47ZM572.22,154.75L575.82,154.75L574.02,151.51ZM574.55,155.13L578.15,155.13L576.35,151.89ZM577.30,154.54L580.90,154.54L579.10,151.30ZM578.94,154.61L582.54,154.61L580.74,151.37ZM581.25,154.81L584.85,154.81L583.05,151.57ZM583.80,154.63L587.40,154.63L585.60,151.39ZM585.60,154.76L589.20,154.76L587.40,151.52ZM573.30,157.27L576.90,157.27L575.10,154.03ZM576.08,157.37L579.68,157.37L577.88,154.13ZM578.05,157.31L581.65,157.31L579.85,154.07ZM580.50,156.86L584.10,156.86L582.30,153.62ZM583.00,157.44L586.60,157.44L584.80,154.20ZM585.30,157.46L588.90,157.46L587.10,154.22ZM573.81,159.54L577.41,159.54L575.61,156.30ZM576.23,159.73L579.83,159.73L578.03,156.49ZM578.85,159.27L582.45,159.27L580.65,156.03ZM581.62,159.35L585.22,159.35L583.42,156.11ZM584.37,159.26L587.97,159.26L586.17,156.02ZM575.00,161.34L578.60,161.34L576.80,158.10ZM577.78,161.51L581.38,161.51L579.58,158.27ZM580.42,161.92L584.02,161.92L582.22,158.68ZM583.59,161.34L587.19,161.34L585.39,158.10Z" fill="#111"/>
<path d="M608.80,113.00a1.70,1.70 0 1,0 3.40,0a1.70,1.70 0 1,0 -3.40,0ZM607.80,114.80a1.70,1.70 0 1,0 3.40,0a1.70,1.70 0 1,0 -3.40,0ZM607.10,117.20a1.70,1.70 0 1,0 3.40,0a1.70,1.70 0 1,0 -3.40,0ZM605.80,122.00a1.70,1.70 0 1,0 3.40,0a1.70,1.70 0 1,0 -3.40,0ZM609.80,122.00a1.70,1.70 0 1,0 3.40,0a1.70,1.70 0 1,0 -3.40,0ZM607.70,125.70a1.70,1.70 0 1,0 3.40,0a1.70,1.70 0 1,0 -3.40,0ZM607.70,132.30a1.70,1.70 0 1,0 3.40,0a1.70,1.70 0 1,0 -3.40,0ZM604.50,137.30a1.70,1.70 0 1,0 3.40,0a1.70,1.70 0 1,0 -3.40,0ZM606.10,137.00a1.70,1.70 0 1,0 3.40,0a1.70,1.70 0 1,0 -3.40,0ZM608.90,136.40a1.70,1.70 0 1,0 3.40,0a1.70,1.70 0 1,0 -3.40,0ZM603.80,139.20a1.70,1.70 0 1,0 3.40,0a1.70,1.70 0 1,0 -3.40,0ZM606.95,139.20a1.70,1.70 0 1,0 3.40,0a1.70,1.70 0 1,0 -3.40,0ZM610.50,140.10a1.70,1.70 0 1,0 3.40,0a1.70,1.70 0 1,0 -3.40,0ZM604.65,141.40a1.70,1.70 0 1,0 3.40,0a1.70,1.70 0 1,0 -3.40,0ZM608.00,142.60a1.70,1.70 0 1,0 3.40,0a1.70,1.70 0 1,0 -3.40,0ZM609.60,142.30a1.70,1.70 0 1,0 3.40,0a1.70,1.70 0 1,0 -3.40,0ZM605.30,143.90a1.70,1.70 0 1,0 3.40,0a1.70,1.70 0 1,0 -3.40,0ZM608.65,145.10a1.70,1.70 0 1,0 3.40,0a1.70,1.70 0 1,0 -3.40,0ZM612.00,144.80a1.70,1.70 0 1,0 3.40,0a1.70,1.70 0 1,0 -3.40,0ZM602.95,147.00a1.70,1.70 0 1,0 3.40,0a1.70,1.70 0 1,0 -3.40,0ZM606.30,146.70a1.70,1.70 0 1,0 3.40,0a1.70,1.70 0 1,0 -3.40,0ZM609.65,146.40a1.70,1.70 0 1,0 3.40,0a1.70,1.70 0 1,0 -3.40,0ZM612.80,146.40a1.70,1.70 0 1,0 3.40,0a1.70,1.70 0 1,0 -3.40,0ZM602.30,150.00a1.70,1.70 0 1,0 3.40,0a1.70,1.70 0 1,0 -3.40,0ZM605.65,149.70a1.70,1.70 0 1,0 3.40,0a1.70,1.70 0 1,0 -3.40,0ZM609.00,149.40a1.70,1.70 0 1,0 3.40,0a1.70,1.70 0 1,0 -3.40,0ZM610.60,149.10a1.70,1.70 0 1,0 3.40,0a1.70,1.70 0 1,0 -3.40,0ZM613.95,150.30a1.70,1.70 0 1,0 3.40,0a1.70,1.70 0 1,0 -3.40,0ZM599.45,151.70a1.70,1.70 0 1,0 3.40,0a1.70,1.70 0 1,0 -3.40,0ZM602.80,151.40a1.70,1.70 0 1,0 3.40,0a1.70,1.70 0 1,0 -3.40,0ZM606.15,152.60a1.70,1.70 0 1,0 3.40,0a1.70,1.70 0 1,0 -3.40,0ZM609.50,152.30a1.70,1.70 0 1,0 3.40,0a1.70,1.70 0 1,0 -3.40,0ZM611.10,152.00a1.70,1.70 0 1,0 3.40,0a1.70,1.70 0 1,0 -3.40,0ZM614.60,152.30a1.70,1.70 0 1,0 3.40,0a1.70,1.70 0 1,0 -3.40,0ZM600.30,153.90a1.70,1.70 0 1,0 3.40,0a1.70,1.70 0 1,0 -3.40,0ZM603.65,155.10a1.70,1.70 0 1,0 3.40,0a1.70,1.70 0 1,0 -3.40,0ZM607.00,154.80a1.70,1.70 0 1,0 3.40,0a1.70,1.70 0 1,0 -3.40,0ZM608.60,154.50a1.70,1.70 0 1,0 3.40,0a1.70,1.70 0 1,0 -3.40,0ZM611.95,154.20a1.70,1.70 0 1,0 3.40,0a1.70,1.70 0 1,0 -3.40,0ZM615.30,153.90a1.70,1.70 0 1,0 3.40,0a1.70,1.70 0 1,0 -3.40,0ZM601.15,157.60a1.70,1.70 0 1,0 3.40,0a1.70,1.70 0 1,0 -3.40,0ZM604.50,157.30a1.70,1.70 0 1,0 3.40,0a1.70,1.70 0 1,0 -3.40,0ZM606.10,157.00a1.70,1.70 0 1,0 3.40,0a1.70,1.70 0 1,0 -3.40,0ZM609.45,156.70a1.70,1.70 0 1,0 3.40,0a1.70,1.70 0 1,0 -3.40,0ZM612.80,156.40a1.70,1.70 0 1,0 3.40,0a1.70,1.70 0 1,0 -3.40,0ZM614.60,157.30a1.70,1.70 0 1,0 3.40,0a1.70,1.70 0 1,0 -3.40,0ZM606.50,158.70a1.70,1.70 0 1,0 3.40,0a1.70,1.70 0 1,0 -3.40,0ZM609.95,158.40a1.70,1.70 0 1,0 3.40,0a1.70,1.70 0 1,0 -3.40,0Z" fill="#111"/>
<line x1="599.80" y1="149.80" x2="619.20" y2="149.80" stroke="#111" stroke-width="1.8"/>
<path d="M635.80,141.00L636.30,142.00L634.80,145.00L633.80,148.00L630.50,150.50L630.50,153.50L631.80,156.50L633.80,159.00L635.80,160.30L641.20,160.30L643.20,159.00L644.20,156.50L645.20,153.50L645.20,150.50L642.20,148.00L641.70,145.00L640.70,142.00L640.90,141.00Z" fill="#111"/>
<path d="M636.30,133.20a2.00,2.00 0 1,0 4.00,0a2.00,2.00 0 1,0 -4.00,0ZM634.16,141.72a2.00,2.00 0 1,0 4.00,0a2.00,2.00 0 1,0 -4.00,0ZM638.82,141.66a2.00,2.00 0 1,0 4.00,0a2.00,2.00 0 1,0 -4.00,0ZM632.83,144.89a2.00,2.00 0 1,0 4.00,0a2.00,2.00 0 1,0 -4.00,0ZM635.90,145.01a2.00,2.00 0 1,0 4.00,0a2.00,2.00 0 1,0 -4.00,0ZM639.33,144.95a2.00,2.00 0 1,0 4.00,0a2.00,2.00 0 1,0 -4.00,0ZM631.46,147.67a2.00,2.00 0 1,0 4.00,0a2.00,2.00 0 1,0 -4.00,0ZM634.54,148.26a2.00,2.00 0 1,0 4.00,0a2.00,2.00 0 1,0 -4.00,0ZM637.10,147.78a2.00,2.00 0 1,0 4.00,0a2.00,2.00 0 1,0 -4.00,0ZM640.30,148.36a2.00,2.00 0 1,0 4.00,0a2.00,2.00 0 1,0 -4.00,0ZM628.56,150.42a2.00,2.00 0 1,0 4.00,0a2.00,2.00 0 1,0 -4.00,0ZM632.56,150.14a2.00,2.00 0 1,0 4.00,0a2.00,2.00 0 1,0 -4.00,0ZM636.14,150.33a2.00,2.00 0 1,0 4.00,0a2.00,2.00 0 1,0 -4.00,0ZM639.24,150.19a2.00,2.00 0 1,0 4.00,0a2.00,2.00 0 1,0 -4.00,0ZM643.05,150.75a2.00,2.00 0 1,0 4.00,0a2.00,2.00 0 1,0 -4.00,0ZM628.24,153.57a2.00,2.00 0 1,0 4.00,0a2.00,2.00 0 1,0 -4.00,0ZM632.29,153.40a2.00,2.00 0 1,0 4.00,0a2.00,2.00 0 1,0 -4.00,0ZM635.89,153.15a2.00,2.00 0 1,0 4.00,0a2.00,2.00 0 1,0 -4.00,0ZM639.17,153.26a2.00,2.00 0 1,0 4.00,0a2.00,2.00 0 1,0 -4.00,0ZM643.34,153.44a2.00,2.00 0 1,0 4.00,0a2.00,2.00 0 1,0 -4.00,0ZM629.65,156.57a2.00,2.00 0 1,0 4.00,0a2.00,2.00 0 1,0 -4.00,0ZM632.86,156.34a2.00,2.00 0 1,0 4.00,0a2.00,2.00 0 1,0 -4.00,0ZM636.24,156.66a2.00,2.00 0 1,0 4.00,0a2.00,2.00 0 1,0 -4.00,0ZM638.90,156.56a2.00,2.00 0 1,0 4.00,0a2.00,2.00 0 1,0 -4.00,0ZM642.22,156.80a2.00,2.00 0 1,0 4.00,0a2.00,2.00 0 1,0 -4.00,0ZM631.98,158.83a2.00,2.00 0 1,0 4.00,0a2.00,2.00 0 1,0 -4.00,0ZM635.32,158.69a2.00,2.00 0 1,0 4.00,0a2.00,2.00 0 1,0 -4.00,0ZM638.00,159.21a2.00,2.00 0 1,0 4.00,0a2.00,2.00 0 1,0 -4.00,0ZM640.92,158.99a2.00,2.00 0 1,0 4.00,0a2.00,2.00 0 1,0 -4.00,0Z" fill="#111"/>
<path d="M636.10,87.40h3.20v3.20h-3.20Z" fill="#111"/>
<line x1="634.00" y1="141.80" x2="643.00" y2="141.80" stroke="#111" stroke-width="1.6"/>
<line x1="100.30" y1="257.40" x2="100.30" y2="399.00" stroke="#111" stroke-width="1.6"/>
<line x1="99.50" y1="398.20" x2="275.00" y2="398.20" stroke="#111" stroke-width="1.6"/>
<line x1="96.90" y1="398.20" x2="100.30" y2="398.20" stroke="#111" stroke-width="1.6"/>
<text x="91.80" y="402.30" text-anchor="end" font-size="11.5" font-weight="normal" fill="#111" >0</text>
<line x1="96.90" y1="370.20" x2="100.30" y2="370.20" stroke="#111" stroke-width="1.6"/>
<text x="91.80" y="374.30" text-anchor="end" font-size="11.5" font-weight="normal" fill="#111" >50</text>
<line x1="96.90" y1="342.20" x2="100.30" y2="342.20" stroke="#111" stroke-width="1.6"/>
<text x="91.80" y="346.30" text-anchor="end" font-size="11.5" font-weight="normal" fill="#111" >100</text>
<line x1="96.90" y1="314.20" x2="100.30" y2="314.20" stroke="#111" stroke-width="1.6"/>
<text x="91.80" y="318.30" text-anchor="end" font-size="11.5" font-weight="normal" fill="#111" >150</text>
<line x1="96.90" y1="286.20" x2="100.30" y2="286.20" stroke="#111" stroke-width="1.6"/>
<text x="91.80" y="290.30" text-anchor="end" font-size="11.5" font-weight="normal" fill="#111" >200</text>
<line x1="96.90" y1="258.20" x2="100.30" y2="258.20" stroke="#111" stroke-width="1.6"/>
<text x="91.80" y="262.30" text-anchor="end" font-size="11.5" font-weight="normal" fill="#111" >250</text>
<line x1="129.30" y1="398.20" x2="129.30" y2="403.40" stroke="#111" stroke-width="1.6"/>
<text x="129.30" y="417.30" text-anchor="middle" font-size="11.5" font-weight="normal" fill="#111" >Active</text>
<line x1="187.40" y1="398.20" x2="187.40" y2="403.40" stroke="#111" stroke-width="1.6"/>
<text x="187.40" y="417.30" text-anchor="middle" font-size="11.5" font-weight="normal" fill="#111" >Normal</text>
<line x1="245.50" y1="398.20" x2="245.50" y2="403.40" stroke="#111" stroke-width="1.6"/>
<text x="245.50" y="417.30" text-anchor="middle" font-size="11.5" font-weight="normal" fill="#111" >Inactive</text>
<text x="187.00" y="436.30" text-anchor="middle" font-size="11.5" font-weight="normal" fill="#111" >TGFβ status</text>
<text transform="translate(60.00,329.50) rotate(-90)" text-anchor="middle" font-size="11.5" fill="#111">L1 transcripts</text>
<line x1="128.20" y1="243.40" x2="128.20" y2="257.30" stroke="#111" stroke-width="1.6"/>
<line x1="127.40" y1="243.40" x2="246.90" y2="243.40" stroke="#111" stroke-width="1.6"/>
<line x1="246.10" y1="243.40" x2="246.10" y2="346.20" stroke="#111" stroke-width="1.6"/>
<line x1="129.20" y1="273.40" x2="191.90" y2="273.40" stroke="#111" stroke-width="1.6"/>
<path d="M179.70,234.60L180.20,235.81L181.51,235.91L180.51,236.76L180.82,238.04L179.70,237.35L178.58,238.04L178.89,236.76L177.89,235.91L179.20,235.81ZM183.80,234.60L184.30,235.81L185.61,235.91L184.61,236.76L184.92,238.04L183.80,237.35L182.68,238.04L182.99,236.76L181.99,235.91L183.30,235.81ZM187.90,234.60L188.40,235.81L189.71,235.91L188.71,236.76L189.02,238.04L187.90,237.35L186.78,238.04L187.09,236.76L186.09,235.91L187.40,235.81Z" fill="#222"/>
<path d="M164.30,267.30L164.80,268.51L166.11,268.61L165.11,269.46L165.42,270.74L164.30,270.06L163.18,270.74L163.49,269.46L162.49,268.61L163.80,268.51Z" fill="#222"/>
<path d="M121.00,377.00L113.30,378.50L113.50,381.50L113.50,384.50L116.00,387.00L122.00,389.50L135.00,389.50L142.00,387.00L145.30,384.50L145.50,381.50L145.60,378.50L138.00,377.00Z" fill="#111"/>
<path d="M128.05,276.05h2.90v2.90h-2.90ZM128.05,299.75h2.90v2.90h-2.90ZM128.05,301.95h2.90v2.90h-2.90ZM128.05,307.35h2.90v2.90h-2.90ZM129.65,319.45h2.90v2.90h-2.90ZM127.05,321.85h2.90v2.90h-2.90ZM126.75,346.45h2.90v2.90h-2.90ZM128.85,349.05h2.90v2.90h-2.90ZM128.85,351.85h2.90v2.90h-2.90ZM128.85,354.75h2.90v2.90h-2.90ZM128.85,357.65h2.90v2.90h-2.90ZM128.85,360.55h2.90v2.90h-2.90ZM128.85,363.45h2.90v2.90h-2.90ZM124.95,353.25h2.90v2.90h-2.90ZM130.65,354.05h2.90v2.90h-2.90ZM123.15,358.35h2.90v2.90h-2.90ZM132.45,358.65h2.90v2.90h-2.90ZM126.15,360.15h2.90v2.90h-2.90ZM125.25,362.15h2.90v2.90h-2.90ZM132.45,362.25h2.90v2.90h-2.90ZM122.05,364.05h2.90v2.90h-2.90ZM134.55,364.55h2.90v2.90h-2.90ZM121.05,368.05h2.90v2.90h-2.90ZM124.05,368.55h2.90v2.90h-2.90ZM127.05,368.05h2.90v2.90h-2.90ZM131.55,368.55h2.90v2.90h-2.90ZM134.55,368.05h2.90v2.90h-2.90ZM121.75,370.85h2.90v2.90h-2.90ZM125.05,371.55h2.90v2.90h-2.90ZM129.55,371.05h2.90v2.90h-2.90ZM133.85,370.85h2.90v2.90h-2.90ZM115.74,373.63h2.90v2.90h-2.90ZM119.41,373.54h2.90v2.90h-2.90ZM122.54,373.89h2.90v2.90h-2.90ZM125.24,374.06h2.90v2.90h-2.90ZM128.49,373.97h2.90v2.90h-2.90ZM131.81,373.56h2.90v2.90h-2.90ZM135.51,374.44h2.90v2.90h-2.90ZM138.42,373.72h2.90v2.90h-2.90ZM142.30,374.59h2.90v2.90h-2.90ZM110.34,376.93h2.90v2.90h-2.90ZM114.05,376.51h2.90v2.90h-2.90ZM117.13,376.80h2.90v2.90h-2.90ZM119.50,376.59h2.90v2.90h-2.90ZM122.93,377.43h2.90v2.90h-2.90ZM126.00,377.15h2.90v2.90h-2.90ZM129.78,376.90h2.90v2.90h-2.90ZM132.90,376.53h2.90v2.90h-2.90ZM135.54,376.70h2.90v2.90h-2.90ZM139.51,376.96h2.90v2.90h-2.90ZM142.30,377.15h2.90v2.90h-2.90ZM145.69,376.81h2.90v2.90h-2.90ZM110.80,380.29h2.90v2.90h-2.90ZM113.34,380.14h2.90v2.90h-2.90ZM116.88,380.50h2.90v2.90h-2.90ZM120.33,379.80h2.90v2.90h-2.90ZM123.83,379.59h2.90v2.90h-2.90ZM126.35,380.36h2.90v2.90h-2.90ZM129.23,380.04h2.90v2.90h-2.90ZM132.30,380.25h2.90v2.90h-2.90ZM136.37,380.14h2.90v2.90h-2.90ZM139.70,379.83h2.90v2.90h-2.90ZM142.68,380.16h2.90v2.90h-2.90ZM145.75,380.00h2.90v2.90h-2.90ZM110.86,383.58h2.90v2.90h-2.90ZM113.60,383.25h2.90v2.90h-2.90ZM116.29,383.29h2.90v2.90h-2.90ZM120.17,383.64h2.90v2.90h-2.90ZM123.56,382.79h2.90v2.90h-2.90ZM126.22,383.25h2.90v2.90h-2.90ZM128.97,383.00h2.90v2.90h-2.90ZM132.32,382.59h2.90v2.90h-2.90ZM135.38,383.37h2.90v2.90h-2.90ZM138.64,382.75h2.90v2.90h-2.90ZM142.14,383.50h2.90v2.90h-2.90ZM144.95,382.99h2.90v2.90h-2.90ZM113.01,386.01h2.90v2.90h-2.90ZM116.58,385.99h2.90v2.90h-2.90ZM119.17,385.45h2.90v2.90h-2.90ZM122.51,386.01h2.90v2.90h-2.90ZM126.48,385.13h2.90v2.90h-2.90ZM128.78,385.23h2.90v2.90h-2.90ZM132.10,385.53h2.90v2.90h-2.90ZM135.77,385.27h2.90v2.90h-2.90ZM138.31,385.45h2.90v2.90h-2.90ZM141.99,385.63h2.90v2.90h-2.90ZM116.49,388.28h2.90v2.90h-2.90ZM119.14,388.19h2.90v2.90h-2.90ZM122.50,387.51h2.90v2.90h-2.90ZM125.94,388.39h2.90v2.90h-2.90ZM129.09,388.41h2.90v2.90h-2.90ZM131.68,387.93h2.90v2.90h-2.90ZM134.50,388.21h2.90v2.90h-2.90ZM137.62,387.53h2.90v2.90h-2.90ZM122.60,390.14h2.90v2.90h-2.90ZM125.82,390.01h2.90v2.90h-2.90ZM128.48,390.13h2.90v2.90h-2.90ZM131.67,390.39h2.90v2.90h-2.90Z" fill="#111"/>
<path d="M117.90,381.50a0.60,0.60 0 1,0 1.20,0a0.60,0.60 0 1,0 -1.20,0ZM126.40,384.00a0.60,0.60 0 1,0 1.20,0a0.60,0.60 0 1,0 -1.20,0ZM134.40,380.50a0.60,0.60 0 1,0 1.20,0a0.60,0.60 0 1,0 -1.20,0ZM140.40,383.00a0.60,0.60 0 1,0 1.20,0a0.60,0.60 0 1,0 -1.20,0ZM123.40,387.50a0.60,0.60 0 1,0 1.20,0a0.60,0.60 0 1,0 -1.20,0ZM130.40,388.50a0.60,0.60 0 1,0 1.20,0a0.60,0.60 0 1,0 -1.20,0ZM138.40,386.50a0.60,0.60 0 1,0 1.20,0a0.60,0.60 0 1,0 -1.20,0Z" fill="#fff"/>
<line x1="120.00" y1="367.70" x2="139.00" y2="367.70" stroke="#111" stroke-width="1.7"/>
<path d="M185.90,347.13L189.30,347.13L187.60,344.07ZM185.90,352.23L189.30,352.23L187.60,349.17ZM185.90,362.33L189.30,362.33L187.60,359.27ZM184.80,370.43L188.20,370.43L186.50,367.37ZM187.30,370.43L190.70,370.43L189.00,367.37ZM184.80,373.73L188.20,373.73L186.50,370.67ZM187.30,373.73L190.70,373.73L189.00,370.67ZM185.90,377.83L189.30,377.83L187.60,374.77ZM188.30,380.33L191.70,380.33L190.00,377.27ZM184.80,381.93L188.20,381.93L186.50,378.87ZM180.30,382.53L183.70,382.53L182.00,379.47ZM179.66,386.75L183.06,386.75L181.36,383.69ZM183.17,386.69L186.57,386.69L184.87,383.63ZM186.33,386.92L189.73,386.92L188.03,383.86ZM189.20,387.04L192.60,387.04L190.90,383.98ZM192.43,386.98L195.83,386.98L194.13,383.92ZM167.96,391.90L171.36,391.90L169.66,388.84ZM171.11,392.49L174.51,392.49L172.81,389.43ZM173.75,392.01L177.15,392.01L175.45,388.95ZM177.03,392.59L180.43,392.59L178.73,389.53ZM179.86,392.15L183.26,392.15L181.56,389.09ZM183.06,391.87L186.46,391.87L184.76,388.81ZM185.84,392.06L189.24,392.06L187.54,389.00ZM188.14,391.92L191.54,391.92L189.84,388.86ZM191.15,392.48L194.55,392.48L192.85,389.42ZM193.92,392.30L197.32,392.30L195.62,389.24ZM197.16,392.13L200.56,392.13L198.86,389.07ZM199.96,391.88L203.36,391.88L201.66,388.82ZM202.45,391.99L205.85,391.99L204.15,388.93ZM174.94,394.67L178.34,394.67L176.64,391.61ZM177.79,394.80L181.19,394.80L179.49,391.74ZM181.05,394.57L184.45,394.57L182.75,391.51ZM184.46,394.89L187.86,394.89L186.16,391.83ZM187.17,394.79L190.57,394.79L188.87,391.73ZM190.53,395.03L193.93,395.03L192.23,391.97ZM193.84,394.56L197.24,394.56L195.54,391.50ZM197.18,394.42L200.58,394.42L198.88,391.36ZM168.23,389.39L171.63,389.39L169.93,386.33ZM171.81,389.36L175.21,389.36L173.51,386.30ZM175.21,389.48L178.61,389.48L176.91,386.42ZM178.47,389.53L181.87,389.53L180.17,386.47ZM181.91,389.50L185.31,389.50L183.61,386.44ZM185.38,389.37L188.78,389.37L187.08,386.31ZM188.97,389.66L192.37,389.66L190.67,386.60ZM192.30,389.42L195.70,389.42L194.00,386.36ZM195.95,389.71L199.35,389.71L197.65,386.65ZM199.38,389.49L202.78,389.49L201.08,386.43ZM202.99,389.35L206.39,389.35L204.69,386.29Z" fill="#111"/>
<line x1="177.80" y1="383.10" x2="196.60" y2="383.10" stroke="#111" stroke-width="1.7"/>
<line x1="168.00" y1="388.50" x2="206.30" y2="388.50" stroke="#111" stroke-width="1.8"/>
<line x1="187.40" y1="383.10" x2="187.40" y2="388.50" stroke="#111" stroke-width="1.5"/>
<path d="M243.80,350.78L247.40,350.78L245.60,354.02ZM243.80,356.28L247.40,356.28L245.60,359.52ZM248.20,355.88L251.80,355.88L250.00,359.12ZM243.80,367.18L247.40,367.18L245.60,370.42ZM243.80,371.68L247.40,371.68L245.60,374.92ZM234.20,377.68L237.80,377.68L236.00,380.92ZM248.50,379.98L252.10,379.98L250.30,383.22ZM229.40,383.98L233.00,383.98L231.20,387.22ZM229.40,390.18L233.00,390.18L231.20,393.42ZM229.40,393.38L233.00,393.38L231.20,396.62ZM252.80,383.18L256.40,383.18L254.60,386.42ZM257.80,385.28L261.40,385.28L259.60,388.52ZM257.80,390.88L261.40,390.88L259.60,394.12ZM238.70,391.88L242.30,391.88L240.50,395.12ZM248.20,391.88L251.80,391.88L250.00,395.12ZM234.20,390.38L237.80,390.38L236.00,393.62ZM227.20,386.98L230.80,386.98L229.00,390.22ZM231.32,386.98L234.93,386.98L233.12,390.22ZM235.45,386.98L239.05,386.98L237.25,390.22ZM239.57,386.98L243.18,386.98L241.38,390.22ZM243.70,386.98L247.30,386.98L245.50,390.22ZM247.82,386.98L251.43,386.98L249.62,390.22ZM251.95,386.98L255.55,386.98L253.75,390.22ZM256.07,386.98L259.68,386.98L257.88,390.22ZM260.20,386.98L263.80,386.98L262.00,390.22Z" fill="#111"/>
<line x1="235.30" y1="380.10" x2="255.00" y2="380.10" stroke="#111" stroke-width="1.7"/>
<line x1="226.30" y1="388.30" x2="264.70" y2="388.30" stroke="#111" stroke-width="1.8"/>
<line x1="235.50" y1="391.20" x2="255.00" y2="391.20" stroke="#111" stroke-width="1.6"/>
<line x1="245.60" y1="380.10" x2="245.60" y2="391.20" stroke="#111" stroke-width="1.6"/>
<rect x="364" y="258.8" width="24.20" height="139.70" fill="#e1e2e1"/>
<rect x="364" y="280.31" width="24.20" height="118.19" fill="#3f3e3c"/>
<rect x="393" y="258.8" width="24.10" height="139.70" fill="#e1e2e1"/>
<rect x="393" y="286.74" width="24.10" height="111.76" fill="#3f3e3c"/>
<rect x="450.9" y="258.8" width="24.10" height="139.70" fill="#e1e2e1"/>
<rect x="450.9" y="293.73" width="24.10" height="104.77" fill="#3f3e3c"/>
<rect x="480" y="258.8" width="24.10" height="139.70" fill="#e1e2e1"/>
<rect x="480" y="278.78" width="24.10" height="119.72" fill="#3f3e3c"/>
<rect x="508.8" y="258.8" width="24.20" height="139.70" fill="#e1e2e1"/>
<rect x="508.8" y="258.80" width="24.20" height="139.70" fill="#3f3e3c"/>
<rect x="566.7" y="258.8" width="24.20" height="139.70" fill="#e1e2e1"/>
<rect x="566.7" y="258.80" width="24.20" height="139.70" fill="#3f3e3c"/>
<rect x="595.8" y="258.8" width="24.10" height="139.70" fill="#e1e2e1"/>
<rect x="595.8" y="294.84" width="24.10" height="103.66" fill="#3f3e3c"/>
<line x1="361.00" y1="258.00" x2="361.00" y2="399.30" stroke="#111" stroke-width="1.6"/>
<line x1="360.20" y1="398.50" x2="621.90" y2="398.50" stroke="#111" stroke-width="1.6"/>
<line x1="357.80" y1="398.50" x2="361.00" y2="398.50" stroke="#111" stroke-width="1.6"/>
<text x="352.50" y="402.60" text-anchor="end" font-size="11.5" font-weight="normal" fill="#111" >0</text>
<line x1="357.80" y1="363.57" x2="361.00" y2="363.57" stroke="#111" stroke-width="1.6"/>
<text x="352.50" y="367.68" text-anchor="end" font-size="11.5" font-weight="normal" fill="#111" >25</text>
<line x1="357.80" y1="328.65" x2="361.00" y2="328.65" stroke="#111" stroke-width="1.6"/>
<text x="352.50" y="332.75" text-anchor="end" font-size="11.5" font-weight="normal" fill="#111" >50</text>
<line x1="357.80" y1="293.73" x2="361.00" y2="293.73" stroke="#111" stroke-width="1.6"/>
<text x="352.50" y="297.83" text-anchor="end" font-size="11.5" font-weight="normal" fill="#111" >75</text>
<line x1="357.80" y1="258.80" x2="361.00" y2="258.80" stroke="#111" stroke-width="1.6"/>
<text x="352.50" y="262.90" text-anchor="end" font-size="11.5" font-weight="normal" fill="#111" >100</text>
<text transform="translate(322.30,328.00) rotate(-90)" text-anchor="middle" font-size="11.5" fill="#111">% Retrotransposition</text>
<text x="348.00" y="247.30" text-anchor="middle" font-size="11.5" font-weight="normal" fill="#111" >N</text>
<text x="375.90" y="253.80" text-anchor="middle" font-size="11.5" font-weight="normal" fill="#111" >33</text>
<text x="404.60" y="253.80" text-anchor="middle" font-size="11.5" font-weight="normal" fill="#111" >15</text>
<text x="462.70" y="253.80" text-anchor="middle" font-size="11.5" font-weight="normal" fill="#111" >28</text>
<text x="492.00" y="253.80" text-anchor="middle" font-size="11.5" font-weight="normal" fill="#111" >7</text>
<text x="521.00" y="253.80" text-anchor="middle" font-size="11.5" font-weight="normal" fill="#111" >13</text>
<text x="578.60" y="253.80" text-anchor="middle" font-size="11.5" font-weight="normal" fill="#111" >15</text>
<text x="607.50" y="253.80" text-anchor="middle" font-size="11.5" font-weight="normal" fill="#111" >31</text>
<text x="375.90" y="412.80" text-anchor="middle" font-size="11.5" font-weight="normal" fill="#111" >-</text>
<text x="405.90" y="414.40" text-anchor="middle" font-size="11.5" font-weight="normal" fill="#111" >+</text>
<text x="463.00" y="413.80" text-anchor="middle" font-size="11.5" font-weight="normal" fill="#111" >No</text>
<text x="491.50" y="413.80" text-anchor="middle" font-size="11.5" font-weight="normal" fill="#111" >Active</text>
<text x="521.40" y="413.80" text-anchor="middle" font-size="11.5" font-weight="normal" fill="#111" >Exh.</text>
<text x="579.60" y="412.80" text-anchor="middle" font-size="11.5" font-weight="normal" fill="#111" >-</text>
<text x="609.00" y="414.40" text-anchor="middle" font-size="11.5" font-weight="normal" fill="#111" >+</text>
<text x="390.00" y="433.20" text-anchor="middle" font-size="11.5" font-weight="normal" fill="#111" >TP53</text>
<text x="390.00" y="446.30" text-anchor="middle" font-size="11.5" font-weight="normal" fill="#111" >mutation</text>
<text x="491.80" y="433.20" text-anchor="middle" font-size="11.5" font-weight="normal" fill="#111" >Immune</text>
<text x="491.80" y="446.30" text-anchor="middle" font-size="11.5" font-weight="normal" fill="#111" >status</text>
<text x="594.30" y="433.20" text-anchor="middle" font-size="11.5" font-weight="normal" fill="#111" >TGFβ</text>
<text x="594.30" y="446.30" text-anchor="middle" font-size="11.5" font-weight="normal" fill="#111" >active</text>
<line x1="570.00" y1="234.50" x2="608.70" y2="234.50" stroke="#111" stroke-width="1.6"/>
<path d="M590.90,228.10L591.40,229.31L592.71,229.41L591.71,230.26L592.02,231.54L590.90,230.85L589.78,231.54L590.09,230.26L589.09,229.41L590.40,229.31Z" fill="#222"/>
<rect x="630" y="264.3" width="40.7" height="22.3" fill="#e1e2e1"/>
<rect x="630" y="288.6" width="40.7" height="22" fill="#3f3e3c"/>
<text x="649.80" y="279.70" text-anchor="middle" font-size="10.6" font-weight="normal" fill="#111" >Yes</text>
<text x="649.70" y="303.70" text-anchor="middle" font-size="10.6" font-weight="normal" fill="#fff" >No</text>
</svg></body></html>
